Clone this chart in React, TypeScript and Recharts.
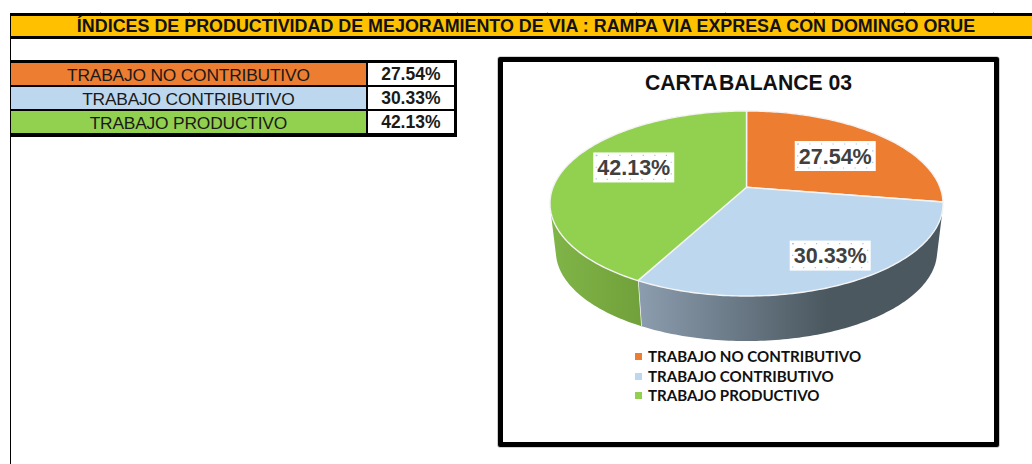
import React from 'react';
import { PieChart, Pie, Legend } from 'recharts';

const CATEGORIES = ['TRABAJO NO CONTRIBUTIVO', 'TRABAJO CONTRIBUTIVO', 'TRABAJO PRODUCTIVO'];
const VALUES = [27.54, 30.33, 42.13];
const COLORS = ['#ED7D31', '#BDD7EE', '#92D050'];
const WALL_LEFT = ['#C86A2A', '#8C9DAF', '#80B548'];
const WALL_RIGHT = ['#A85A22', '#4B5860', '#6C9A36'];
const BAND_TITLE = 'ÍNDICES DE PRODUCTIVIDAD DE MEJORAMIENTO DE VIA : RAMPA VIA EXPRESA CON DOMINGO ORUE';
const CHART_TITLE_A = 'CARTA ';
const CHART_TITLE_B = 'BALANCE 03';

const ARIAL = '"Liberation Sans", Arial, sans-serif';
const FRAME = { left: 498, top: 57, width: 501, height: 390 };
const PIE_X = 248.5;
const PIE_Y = 130.3;
const RADIUS = 193.5;
// projective tilt of the pie disc
const SQUASH = 0.4636;
const TILT = -0.175;
const WALL_DEPTH = 48.3;
const WALL_SCALE = 0.97;
const LABEL_RADIUS = 0.6;
const LABEL_NUDGE = [[6, 1.4], [27, 15], [-3, -7]];
const SHEET_TICKS = Array.from({ length: 11 }, (_, i) => 100 + 89.3 * i);

const rows = CATEGORIES.map((name, i) => ({ name, value: VALUES[i], fill: COLORS[i] }));

const project = (R: number, deg: number, r = 1) => {
  const c = ((90 - deg) * Math.PI) / 180;
  const u = r * Math.sin(c);
  const v = -r * Math.cos(c);
  const d = 1 + TILT * v;
  return { X: (R * u) / d, Y: (R * SQUASH * v) / d };
};

type Pt = [number, number];

const arc = (cx: number, cy: number, R: number, a0: number, a1: number, scale = 1, dy = 0): Pt[] => {
  const n = Math.max(2, Math.ceil(Math.abs(a1 - a0)));
  const pts: Pt[] = [];
  for (let i = 0; i <= n; i++) {
    const p = project(R, a0 + ((a1 - a0) * i) / n);
    pts.push([cx + p.X * scale, cy + dy + p.Y * scale]);
  }
  return pts;
};

const quadPath = (q: Pt[]) => {
  let area = 0;
  q.forEach((p, i) => {
    const n = q[(i + 1) % q.length];
    area += p[0] * n[1] - n[0] * p[1];
  });
  const ordered = area < 0 ? q.slice().reverse() : q;
  return 'M' + ordered.map((p) => `${p[0].toFixed(2)} ${p[1].toFixed(2)}`).join('L') + 'Z';
};

const Slice3D = (props: any) => {
  const { cx, cy, outerRadius, startAngle, endAngle, index, fill } = props;
  const idx = index ?? COLORS.indexOf(fill);
  const top = arc(cx, cy, outerRadius, startAngle, endAngle);
  const bottom = arc(cx, cy, outerRadius, startAngle, endAngle, WALL_SCALE, WALL_DEPTH);
  const e0 = top[top.length - 1];
  const e1 = bottom[bottom.length - 1];
  const gid = `wall-${idx}`;
  const xs = top.map((p) => p[0]);
  const x0 = Math.min(...xs);
  const x1 = x0 + (Math.max(...xs) - x0) * 0.62;
  const wall = top
    .slice(1)
    .map((p, i) => quadPath([top[i], p, bottom[i + 1], bottom[i]]))
    .join('');
  const face = [[cx, cy], ...top].map((p) => `${p[0].toFixed(2)},${p[1].toFixed(2)}`).join(' ');
  return (
    <g>
      <defs>
        <linearGradient id={gid} gradientUnits="userSpaceOnUse" x1={x0} x2={x1} y1={0} y2={0}>
          <stop offset="0" stopColor={WALL_LEFT[idx]} />
          <stop offset="1" stopColor={WALL_RIGHT[idx]} />
        </linearGradient>
      </defs>
      <path d={wall} fill={`url(#${gid})`} fillRule="nonzero" />
      <line x1={e0[0]} y1={e0[1]} x2={e1[0]} y2={e1[1]} stroke="#FFFFFF" strokeWidth={1.3} />
      <polygon
        points={face}
        fill={fill}
        stroke="#F4F4F4"
        strokeWidth={1.4}
        strokeLinejoin="round"
      />
    </g>
  );
};

const SliceLabel = (props: any) => {
  const { cx, cy, midAngle, outerRadius, index, value } = props;
  const p = project(outerRadius, midAngle, LABEL_RADIUS);
  const x = cx + p.X + LABEL_NUDGE[index][0];
  const y = cy + p.Y + LABEL_NUDGE[index][1];
  const w = 81;
  const h = 30;
  return (
    <g>
      <rect x={x - w / 2} y={y - h / 2} width={w} height={h} fill="#FFFFFF" />
      <rect
        x={x - w / 2 + 3}
        y={y - h / 2 + 3}
        width={w - 6}
        height={h - 6}
        fill="none"
        stroke="#9DC3E6"
        strokeWidth={1.2}
        strokeDasharray="1.2 10.4"
      />
      <text
        x={x}
        y={y + 7.5}
        textAnchor="middle"
        fontFamily={ARIAL}
        fontWeight={700}
        fontSize={21.5}
        fill="#404040"
      >
        {`${Number(value).toFixed(2)}%`}
      </text>
    </g>
  );
};

const LegendList = (props: any) => (
  <div>
    {(props.payload || []).map((entry: any) => (
      <div
        key={entry.value}
        style={{
          height: 19.7,
          lineHeight: '19.7px',
          whiteSpace: 'nowrap',
          fontFamily: 'Lato, sans-serif',
          fontWeight: 700,
          fontSize: 15.1,
          color: '#111111',
          position: 'relative',
          paddingLeft: 13,
        }}
      >
        <span
          style={{
            position: 'absolute',
            left: 0,
            top: 6,
            width: 7,
            height: 7,
            background: entry.color,
          }}
        />
        {entry.value}
      </div>
    ))}
  </div>
);

const BLACK = '#000000';
const box = (left: number, top: number, width: number, height: number, background: string) => (
  <div style={{ position: 'absolute', left, top, width, height, background }} />
);

const ROW_TOPS = [62.5, 86.7, 111];
const ROW_H = 22;

export default function App() {
  return (
    <div
      style={{
        position: 'absolute',
        left: 0,
        top: 0,
        width: 1032,
        height: 464,
        overflow: 'hidden',
        background: '#FFFFFF',
      }}
    >
      {/* sheet frame and title band */}
      {SHEET_TICKS.map((x) => (
        <React.Fragment key={x}>{box(x, 11.5, 1, 2, '#BBBBBB')}</React.Fragment>
      ))}
      {box(9.5, 13, 1023, 2.5, BLACK)}
      {box(9.5, 13, 1.7, 451, BLACK)}
      {box(11, 15.5, 1021, 20.7, '#FFC000')}
      {box(11, 36.2, 1021, 2.5, BLACK)}
      <div
        style={{
          position: 'absolute',
          left: 11,
          top: 15.5,
          width: 1030,
          height: 21,
          lineHeight: '21px',
          textAlign: 'center',
          fontFamily: ARIAL,
          fontWeight: 700,
          fontSize: 17.9,
          whiteSpace: 'nowrap',
          color: '#111111',
        }}
      >
        {BAND_TITLE}
      </div>

      {/* table */}
      {box(9.5, 60, 447, 77, BLACK)}
      {rows.map((row, i) => (
        <React.Fragment key={row.name}>
          <div
            style={{
              position: 'absolute',
              left: 11,
              top: ROW_TOPS[i],
              width: 354.7,
              height: ROW_H,
              lineHeight: `${ROW_H + 2}px`,
              background: row.fill,
              textAlign: 'center',
              fontFamily: ARIAL,
              fontSize: 17.4,
              letterSpacing: -0.2,
              color: '#1a1a1a',
              whiteSpace: 'nowrap',
            }}
          >
            {row.name}
          </div>
          <div
            style={{
              position: 'absolute',
              left: 367.7,
              top: ROW_TOPS[i],
              width: 86.3,
              height: ROW_H,
              lineHeight: `${ROW_H + 1}px`,
              background: '#FFFFFF',
              textAlign: 'center',
              fontFamily: ARIAL,
              fontWeight: 700,
              fontSize: 17.5,
              color: '#1a1a1a',
            }}
          >
            {`${row.value.toFixed(2)}%`}
          </div>
        </React.Fragment>
      ))}

      {/* chart frame */}
      <div
        style={{
          position: 'absolute',
          left: FRAME.left,
          top: FRAME.top,
          width: FRAME.width,
          height: FRAME.height,
          boxSizing: 'border-box',
          border: `5px solid ${BLACK}`,
          borderRadius: 2,
          boxShadow: '0 0 0 0.6px #AAAAAA',
        }}
      />
      <div
        style={{
          position: 'absolute',
          left: FRAME.left,
          top: 70,
          width: FRAME.width,
          textAlign: 'center',
          fontFamily: ARIAL,
          fontWeight: 700,
          fontSize: 21.2,
          lineHeight: '26px',
          color: '#111111',
        }}
      >
        <span style={{ wordSpacing: -3.5 }}>{CHART_TITLE_A}</span>
        {CHART_TITLE_B}
      </div>
      <div style={{ position: 'absolute', left: FRAME.left, top: FRAME.top }}>
        <PieChart
          width={FRAME.width}
          height={FRAME.height}
          margin={{ top: 0, right: 0, bottom: 0, left: 0 }}
        >
          <Pie
            data={rows}
            dataKey="value"
            nameKey="name"
            cx={PIE_X}
            cy={PIE_Y}
            innerRadius={0}
            outerRadius={RADIUS}
            startAngle={90}
            endAngle={-270}
            stroke="none"
            isAnimationActive={false}
            shape={Slice3D}
            inactiveShape={Slice3D}
            label={SliceLabel}
            labelLine={false}
          />
          <Legend
            content={LegendList}
            verticalAlign="bottom"
            itemSorter={null}
            wrapperStyle={{ left: 137, top: 290, bottom: 'auto', width: 300 }}
          />
        </PieChart>
      </div>
    </div>
  );
}
